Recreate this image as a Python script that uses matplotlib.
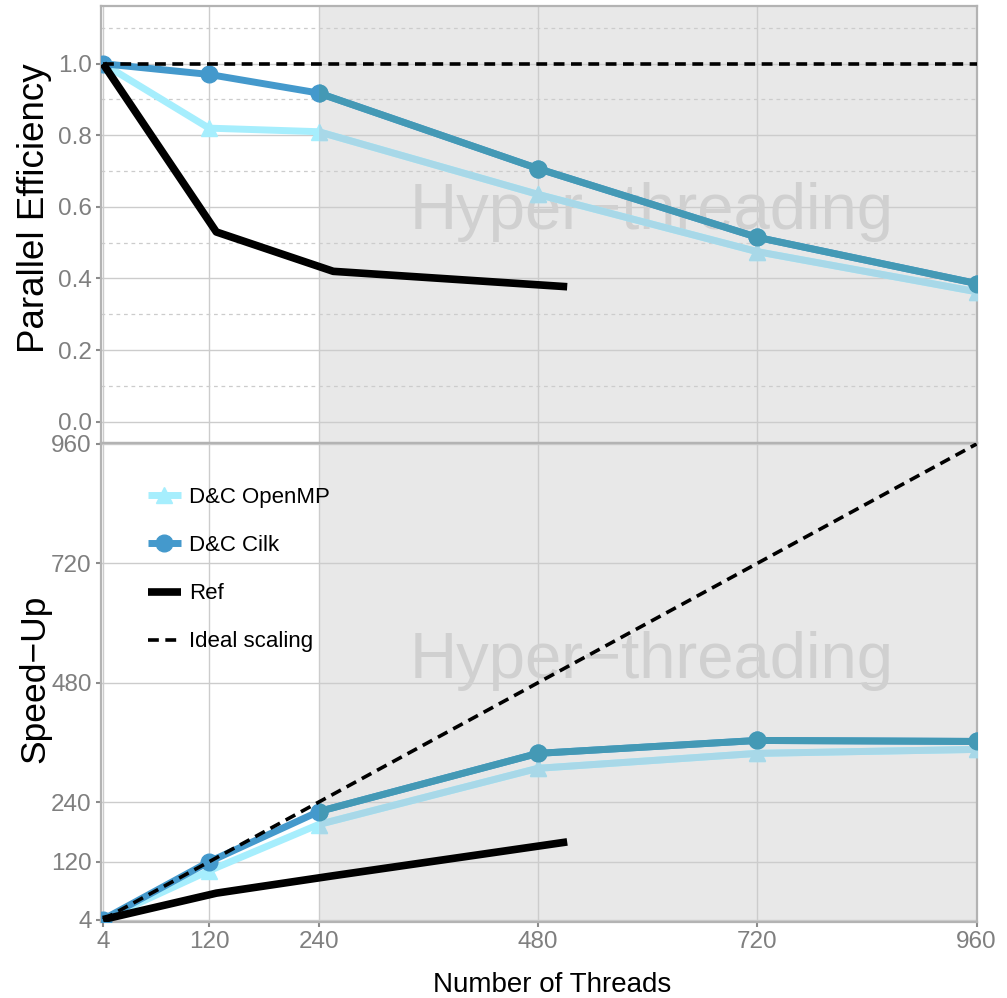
import numpy as np
import matplotlib.pyplot as plt
from matplotlib.patches import Rectangle
from matplotlib.ticker import FixedLocator

plt.rcParams['font.family'] = ['Liberation Sans', 'DejaVu Sans']

threads = [4, 120, 240, 480, 720, 960]  # D&C runs
ref_threads = [4, 128, 256, 512]  # reference runs
ideal_threads = [4, 960]

eff_openmp = [1.0, 0.82, 0.81, 0.635, 0.475, 0.363]
eff_cilk = [1.0, 0.97, 0.918, 0.707, 0.515, 0.386]
eff_ref = [1.0, 0.53, 0.42, 0.377]
eff_ideal = [1.0, 1.0]

spd_openmp = [4, 102, 195, 308, 338, 346]
spd_cilk = [4, 120, 221, 338, 364, 362]
spd_ref = [4, 57, 92, 160]
spd_ideal = [4, 960]

xticks = [4, 120, 240, 480, 720, 960]
eff_ticks = [0.0, 0.2, 0.4, 0.6, 0.8, 1.0]
eff_minor = [0.1, 0.3, 0.5, 0.7, 0.9, 1.1]
spd_ticks = [4, 120, 240, 480, 720, 960]

c_omp, c_omp_ht = '#A6EEFD', '#A8D8E8'
c_cilk, c_cilk_ht = '#4499CC', '#4499B5'
grid_c = '#CCCCCC'
tick_c = '#7F7F7F'

fig = plt.figure(figsize=(10.07, 9.98), dpi=100)
L, R = 101 / 1007, 977 / 1007
ax1 = fig.add_axes([L, 1 - 443 / 998, R - L, (443 - 5.7) / 998])
ax2 = fig.add_axes([L, 1 - 922 / 998, R - L, (922 - 443) / 998])


def draw_series(ax, x, y, col, col_ht, marker, label=None):
    ax.plot(x, y, color=col, lw=5, marker=marker, ms=12, zorder=3,
            label=label, solid_capstyle='butt')
    ln2, = ax.plot(x, y, color=col_ht, lw=5, marker=marker, ms=12, zorder=3.1,
                   solid_capstyle='butt')
    # hyper-threading part of the line gets a slightly different tint
    clip = Rectangle((240, -1000), 720.5, 5000, transform=ax.transData)
    ln2.set_clip_path(clip)


for ax in (ax1, ax2):
    ax.set_xlim(1.8, 960.5)
    ax.axvspan(240, 1000, color='#E8E8E8', zorder=0.1, lw=0)
    ax.set_axisbelow(True)
    ax.xaxis.set_major_locator(FixedLocator(xticks))
    ax.grid(True, which='major', color=grid_c, lw=1.0)
    for s in ax.spines.values():
        s.set_color('#B3B3B3')
        s.set_linewidth(1.6)
    ax.tick_params(which='major', direction='out', length=3.6, width=1.5,
                   color='#8C8C8C', labelcolor=tick_c, labelsize=17.5, pad=3)

# top panel: efficiency
ax1.set_ylim(-0.0595, 1.162)
ax1.set_yticks(eff_ticks)
ax1.set_yticklabels(['0.0', '0.2', '0.4', '0.6', '0.8', '1.0'])
ax1.yaxis.set_minor_locator(FixedLocator(eff_minor))
ax1.grid(True, which='minor', axis='y', color=grid_c, lw=0.9, ls=(0, (3, 3)))
ax1.tick_params(which='minor', length=0)
ax1.tick_params(axis='x', length=0, labelbottom=False)
ax1.text(604, 0.538, 'Hyper\u2212threading', fontsize=47, color='#D0D0D0',
         ha='center', va='baseline', zorder=1)

draw_series(ax1, threads, eff_openmp, c_omp, c_omp_ht, '^')
draw_series(ax1, threads, eff_cilk, c_cilk, c_cilk_ht, 'o')
ax1.plot(ref_threads, eff_ref, color='black', lw=5.5, zorder=3.2,
         solid_capstyle='butt')
ax1.plot(ideal_threads, eff_ideal, color='black', lw=2.6, dashes=(3, 1.8),
         zorder=3.3)

# bottom panel: speed-up
ax2.set_ylim(-1, 962)
ax2.set_yticks(spd_ticks)
ax2.set_yticklabels([str(v) for v in spd_ticks])
ax2.set_xticklabels([str(v) for v in xticks])
ax2.text(604, 490, 'Hyper\u2212threading', fontsize=47, color='#D0D0D0',
         ha='center', va='baseline', zorder=1)

draw_series(ax2, threads, spd_openmp, c_omp, c_omp_ht, '^', 'D&C OpenMP')
draw_series(ax2, threads, spd_cilk, c_cilk, c_cilk_ht, 'o', 'D&C Cilk')
ax2.plot(ref_threads, spd_ref, color='black', lw=5.5, zorder=3.2,
         solid_capstyle='butt', label='Ref')
ax2.plot(ideal_threads, spd_ideal, color='black', lw=2.6, dashes=(3, 1.8),
         zorder=3.3, label='Ideal scaling')

ax2.legend(loc='upper left', bbox_to_anchor=(0.054, 0.908), frameon=False,
           fontsize=16, numpoints=1, handlelength=1.45, handletextpad=0.4,
           labelspacing=1.22, borderpad=0, borderaxespad=0)

fig.text(35 / 1007, 1 - 208 / 998, 'Parallel Efficiency', rotation=90,
         ha='center', va='center', fontsize=26.5)
fig.text(35 / 1007, 1 - 679 / 998, 'Speed\u2212Up', rotation=90,
         ha='center', va='center', fontsize=25.5)
fig.text(552 / 1007, 1 - 985 / 998, 'Number of Threads', ha='center',
         va='center', fontsize=20)

fig.savefig('out.png', dpi=100)
